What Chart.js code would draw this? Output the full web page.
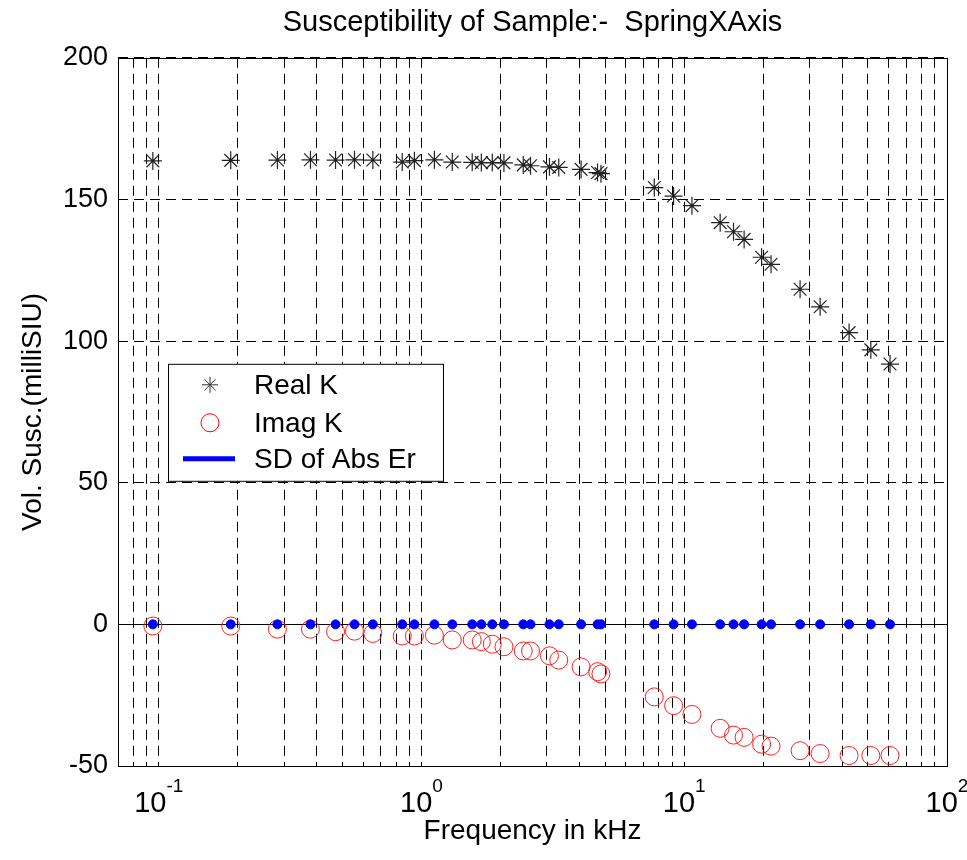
<!DOCTYPE html>
<html>
<head>
<meta charset="utf-8">
<title>Susceptibility of Sample</title>
<script src="https://cdn.jsdelivr.net/npm/chart.js@4.4.0/dist/chart.umd.min.js"></script>
<style>
  html, body { margin: 0; padding: 0; background: #fff; }
  #wrap { width: 967px; height: 860px; }
</style>
</head>
<body>
<div id="wrap"><canvas id="suscChart"></canvas></div>
<script>
// measured frequencies (kHz)
const freqKHz = [0.095, 0.188, 0.283, 0.378, 0.471, 0.556, 0.653, 0.845, 0.94,
  1.12, 1.31, 1.56, 1.69, 1.86, 2.06, 2.44, 2.60, 3.07, 3.33, 4.05, 4.68, 4.82,
  7.69, 9.11, 10.7, 13.7, 15.4, 16.9, 19.7, 21.4, 27.6, 32.9, 42.4, 51.3, 60.7];

// in-phase susceptibility (milliSIU)
const realK = [163.6, 163.8, 163.9, 164.0, 163.9, 164.0, 163.9, 163.2, 163.7,
  164.0, 163.2, 163.1, 163.0, 163.0, 162.9, 162.2, 161.9, 161.5, 161.3, 160.6, 159.5, 159.1,
  154.2, 151.2, 147.8, 141.8, 138.6, 135.9, 129.6, 127.1, 118.3, 112.1, 103.0, 96.9, 91.9];

// quadrature susceptibility (milliSIU)
const imagK = [-0.6, -0.6, -1.7, -1.7, -2.6, -2.4, -3.2, -4.1, -4.1,
  -3.8, -5.5, -5.5, -6.1, -7.0, -7.9, -9.4, -9.4, -11.1, -12.6, -15.0, -16.7, -17.5,
  -25.6, -28.7, -31.8, -36.7, -39.1, -39.9, -42.3, -43.0, -44.6, -45.6, -46.3, -46.3, -46.3];

// standard deviation of the absolute error
const sdAbsErr = [0, 0, 0, 0, 0, 0, 0, 0, 0,
  0, 0, 0, 0, 0, 0, 0, 0, 0, 0, 0, 0, 0,
  0, 0, 0, 0, 0, 0, 0, 0, 0, 0, 0, 0, 0];

const yTicks = [-50, 0, 50, 100, 150, 200];
const xDecades = [0.1, 1, 10, 100];
const xDecadeExp = ['-1', '0', '1', '2'];

// 2..9 times each power of ten, for the log grid
const xGridTicks = [0.07, 0.08, 0.09];
[0.1, 1, 10].forEach(p => { for (let m = 1; m <= 9; m++) xGridTicks.push(+(m * p).toPrecision(3)); });
xGridTicks.push(100);

const FONT = '"Liberation Sans", Arial, Helvetica, sans-serif';

const toPoints = ys => freqKHz.map((f, i) => ({ x: f, y: ys[i] }));

function drawStar(ctx, x, y, r) {
  ctx.beginPath();
  for (let k = 0; k < 4; k++) {
    const a = k * Math.PI / 4;
    ctx.moveTo(x - r * Math.cos(a), y - r * Math.sin(a));
    ctx.lineTo(x + r * Math.cos(a), y + r * Math.sin(a));
  }
  ctx.stroke();
}

// zero line under the markers
const zeroLine = {
  id: 'zeroLine',
  beforeDatasetsDraw(chart) {
    const { ctx, chartArea, scales } = chart;
    const y = Math.round(scales.y.getPixelForValue(0)) + 0.5;
    ctx.save();
    ctx.strokeStyle = '#000';
    ctx.lineWidth = 1;
    ctx.beginPath();
    ctx.moveTo(chartArea.left, y);
    ctx.lineTo(chartArea.right, y);
    ctx.stroke();
    ctx.restore();
  }
};

// box, 10^n tick labels and the legend
const decorations = {
  id: 'decorations',
  afterDraw(chart) {
    const { ctx, chartArea, scales } = chart;
    const ca = chartArea;
    ctx.save();

    ctx.strokeStyle = '#000';
    ctx.lineWidth = 1;
    ctx.strokeRect(Math.round(ca.left) + 0.5, Math.round(ca.top) + 0.5,
      Math.round(ca.right - ca.left), Math.round(ca.bottom - ca.top));

    // decade labels with superscript exponents
    ctx.fillStyle = '#000';
    ctx.textBaseline = 'alphabetic';
    ctx.textAlign = 'left';
    xDecades.forEach((v, i) => {
      const px = scales.x.getPixelForValue(v);
      ctx.font = '29px ' + FONT;
      const wb = ctx.measureText('10').width;
      ctx.font = '19px ' + FONT;
      const we = ctx.measureText(xDecadeExp[i]).width;
      const left = px - (wb + we) / 2;
      ctx.font = '29px ' + FONT;
      ctx.fillText('10', left, ca.bottom + 46);
      ctx.font = '19px ' + FONT;
      ctx.fillText(xDecadeExp[i], left + wb, ca.bottom + 26);
    });

    // legend
    const ds = chart.data.datasets;
    const bx = ca.left + 50, by = ca.top + 306, bw = 275, bh = 117;
    ctx.fillStyle = '#fff';
    ctx.fillRect(bx, by, bw, bh);
    ctx.strokeStyle = '#000';
    ctx.strokeRect(bx + 0.5, by + 0.5, bw, bh);

    const symX = bx + 42, textX = bx + 86;
    const rows = [by + 21, by + 59, by + 95];
    ctx.strokeStyle = '#333';
    ctx.lineWidth = 1;
    drawStar(ctx, symX, rows[0], 8);
    ctx.strokeStyle = '#ff0000';
    ctx.beginPath();
    ctx.arc(symX, rows[1], 9, 0, Math.PI * 2);
    ctx.stroke();
    ctx.strokeStyle = '#0000ff';
    ctx.lineWidth = 5;
    ctx.beginPath();
    ctx.moveTo(bx + 15, rows[2]);
    ctx.lineTo(bx + 67, rows[2]);
    ctx.stroke();

    ctx.fillStyle = '#000';
    ctx.font = '28px ' + FONT;
    ctx.textBaseline = 'middle';
    rows.forEach((ry, i) => ctx.fillText(ds[i].label, textX, ry + 1));

    ctx.restore();
  }
};

new Chart(document.getElementById('suscChart'), {
  type: 'scatter',
  data: {
    datasets: [
      {
        label: 'Real K',
        data: toPoints(realK),
        pointStyle: 'star',
        pointRadius: 9,
        pointHoverRadius: 9,
        borderColor: '#222',
        backgroundColor: '#222',
        pointBorderWidth: 1.2,
        order: 1
      },
      {
        label: 'Imag K',
        data: toPoints(imagK),
        pointStyle: 'circle',
        pointRadius: 9,
        pointHoverRadius: 9,
        borderColor: '#ff2020',
        backgroundColor: 'rgba(0,0,0,0)',
        pointBorderWidth: 1,
        order: 2
      },
      {
        label: 'SD of Abs Er',
        data: toPoints(sdAbsErr),
        pointStyle: 'circle',
        pointRadius: 4.5,
        pointHoverRadius: 4.5,
        borderColor: '#0000ff',
        backgroundColor: '#0000ff',
        pointBorderWidth: 1,
        order: 0
      }
    ]
  },
  options: {
    responsive: true,
    maintainAspectRatio: false,
    animation: false,
    layout: { padding: { left: 0, right: 20, top: 0, bottom: 0 } },
    plugins: {
      legend: { display: false },
      tooltip: { enabled: false },
      title: {
        display: true,
        fullSize: false,
        text: 'Susceptibility of Sample:-  SpringXAxis',
        color: '#000',
        font: { family: FONT, size: 29, weight: 'normal' },
        padding: { top: 6, bottom: 17 }
      }
    },
    scales: {
      x: {
        type: 'logarithmic',
        min: 0.07,
        max: 100,
        afterBuildTicks: scale => { scale.ticks = xGridTicks.map(v => ({ value: v })); },
        afterFit: scale => { scale.height = 94; },
        ticks: { autoSkip: false, callback: () => '', padding: 0 },
        grid: { color: '#000', lineWidth: 1, drawTicks: false },
        border: { display: false, dash: [10, 6] },
        title: {
          display: true,
          text: 'Frequency in kHz',
          color: '#000',
          font: { family: FONT, size: 28 },
          padding: { top: 0, bottom: 12 }
        }
      },
      y: {
        min: -50,
        max: 200,
        afterBuildTicks: scale => { scale.ticks = yTicks.map(v => ({ value: v })); },
        afterFit: scale => { scale.width = 118; },
        ticks: {
          color: '#000',
          padding: 10,
          font: { family: FONT, size: 27 }
        },
        grid: { color: '#000', lineWidth: 1, drawTicks: false },
        border: { display: false, dash: [10, 6] },
        title: {
          display: true,
          text: 'Vol. Susc.(milliSIU)',
          color: '#000',
          font: { family: FONT, size: 28 },
          padding: { top: 16, bottom: 0 }
        }
      }
    }
  },
  plugins: [zeroLine, decorations]
});
</script>
</body>
</html>
